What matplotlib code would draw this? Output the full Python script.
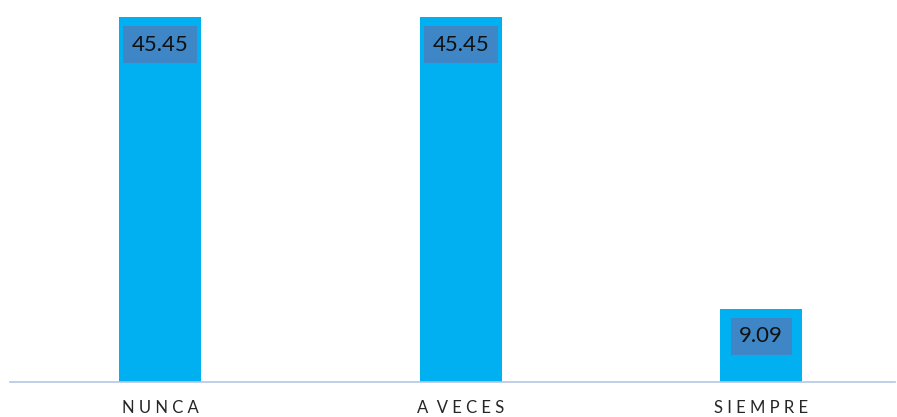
import matplotlib.pyplot as plt

categories = ["N U N C A", "A  V E C E S", "S I E M P R E"]
values = [45.45, 45.45, 9.09]
labels = ["45.45", "45.45", "9.09"]

W, H = 897, 417
fig = plt.figure(figsize=(W / 100, H / 100), dpi=100)
# axes in pixel coords: left 10, right 895, baseline at y=381.5
ax = fig.add_axes([10 / W, (H - 381.5) / H, 885 / W, (381.5 - 4) / H])

slot = 300.5  # px per category
x = range(len(categories))
bars = ax.bar(x, values, width=82 / slot, color="#00B0F0", zorder=2)

ax.set_xlim(-0.5, -0.5 + 885 / slot)
ax.set_ylim(0, 45.45 * (381.5 - 4) / (381.5 - 17))

for b, lab in zip(bars, labels):
    ax.annotate(lab, (b.get_x() + b.get_width() / 2, b.get_height()),
                xytext=(0, -20), textcoords="offset points",
                ha="center", va="center", fontsize=16, family="Lato",
                color="#111111",
                bbox=dict(boxstyle="square,pad=0.38", fc="#3E86C5", ec="none"))

ax.set_xticks(list(x))
ax.set_xticklabels(categories, fontsize=12, family="Lato", color="#262626")
ax.tick_params(axis="x", length=0, pad=13.5)
ax.set_yticks([])
for s in ["top", "right", "left"]:
    ax.spines[s].set_visible(False)
ax.spines["bottom"].set_color("#B4C7E7")
ax.spines["bottom"].set_linewidth(1.2)

fig.savefig("out.png", dpi=100)
